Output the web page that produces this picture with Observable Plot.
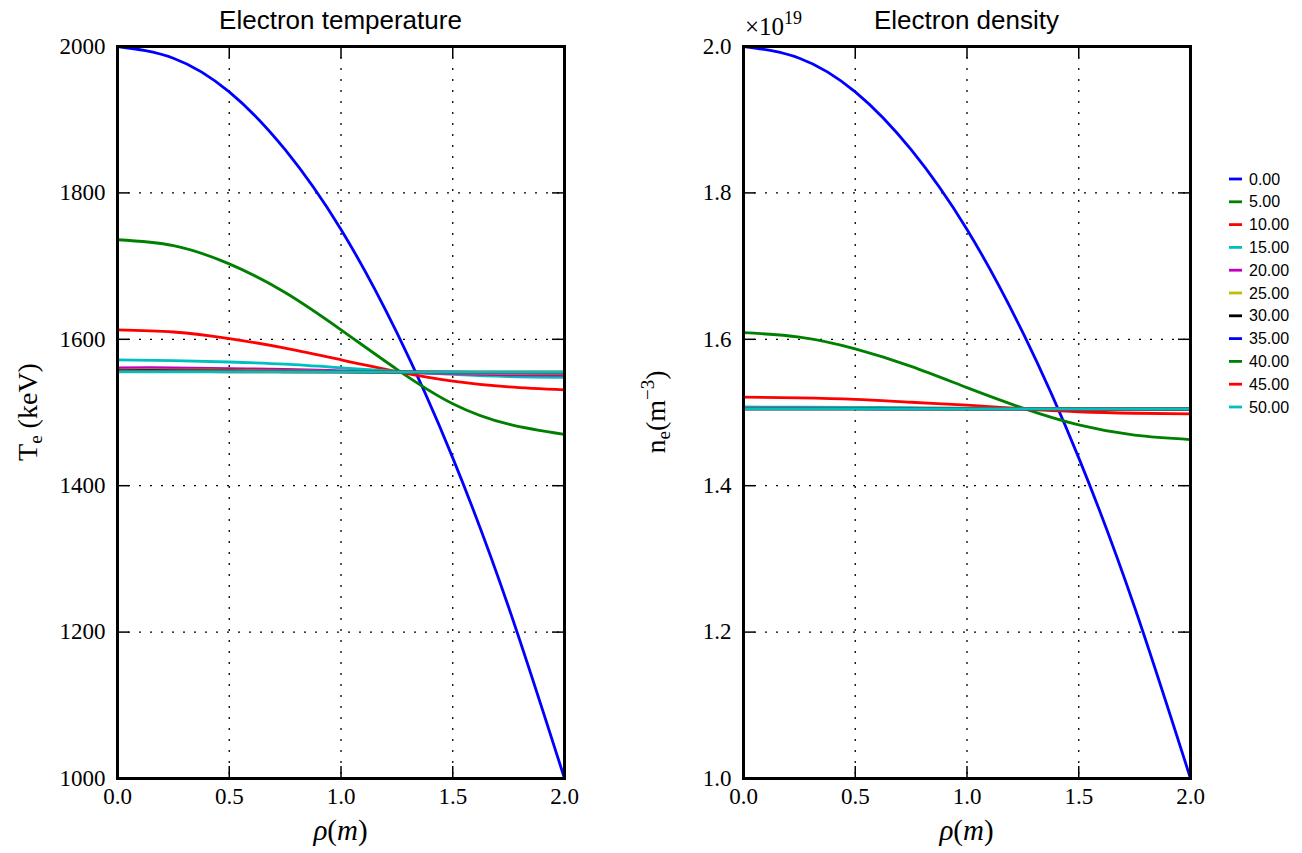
<!DOCTYPE html>
<html>
<head>
<meta charset="utf-8">
<script src="https://cdn.jsdelivr.net/npm/d3@7"></script>
<script src="https://cdn.jsdelivr.net/npm/@observablehq/plot@0.6"></script>
<style>
  body { margin: 0; background: #fff; }
  #wrap { position: relative; width: 1302px; height: 853px; overflow: hidden; }
  #wrap svg { position: absolute; top: 0; overflow: visible; }
  #wrap svg text.ticklab {
    font-family: 'Liberation Serif', 'Times New Roman', serif !important;
    font-size: 23px !important;
    fill: #000 !important;
  }
</style>
</head>
<body>
<div id="wrap"></div>
<script>
// ---- data ----
const rho = [0, 0.25, 0.5, 0.75, 1.0, 1.25, 1.5, 1.75, 2.0];
const seriesLabels = ["0.00","5.00","10.00","15.00","20.00","25.00","30.00","35.00","40.00","45.00","50.00"];
const seriesColors = ["#0000ff","#008000","#ff0000","#00bfbf","#bf00bf","#bfbf00","#000000","#0000ff","#008000","#ff0000","#00bfbf"];
const xTicks = [0, 0.5, 1.0, 1.5, 2.0];
const teTicks = [1000, 1200, 1400, 1600, 1800, 2000];
const neTicks = [1.0, 1.2, 1.4, 1.6, 1.8, 2.0];

// electron temperature (keV)
const te00 = [2000, 1984, 1938, 1859, 1750, 1609, 1438, 1234, 1000];
const te05 = [1736, 1728, 1703, 1664, 1613, 1559, 1512, 1484, 1470];
const te10 = [1613, 1610, 1601, 1588, 1572, 1556, 1543, 1535, 1531];
const te15 = [1572, 1571, 1569, 1566, 1561, 1556, 1552, 1549, 1548];
const te20 = [1561, 1561, 1560, 1559, 1557, 1555, 1553, 1551.5, 1551];
const te25 = [1558, 1558, 1557.5, 1557, 1556, 1555, 1554.3, 1553.8, 1553.6];
const te30 = [1557, 1557, 1556.8, 1556.4, 1555.8, 1555.2, 1554.7, 1554.4, 1554.3];
const te35 = [1556.4, 1556.4, 1556.2, 1556, 1555.6, 1555.2, 1555, 1554.8, 1554.7];
const te40 = [1556, 1556, 1555.9, 1555.7, 1555.5, 1555.3, 1555.1, 1555, 1555];
const te45 = [1555.8, 1555.8, 1555.7, 1555.6, 1555.4, 1555.3, 1555.2, 1555.1, 1555.1];
const te50 = [1555.6, 1555.6, 1555.5, 1555.5, 1555.4, 1555.3, 1555.2, 1555.2, 1555.2];

// electron density (x 1e19 m^-3)
const ne00 = [2.0, 1.984, 1.938, 1.859, 1.75, 1.609, 1.438, 1.234, 1.0];
const ne05 = [1.609, 1.603, 1.587, 1.563, 1.534, 1.506, 1.483, 1.469, 1.463];
const ne10 = [1.521, 1.520, 1.518, 1.514, 1.510, 1.505, 1.501, 1.499, 1.498];
const ne15 = [1.5075, 1.5074, 1.507, 1.5065, 1.506, 1.5053, 1.5047, 1.5043, 1.5042];
const ne20 = [1.5058, 1.5058, 1.5057, 1.5055, 1.5053, 1.505, 1.5048, 1.5046, 1.5046];
const ne25 = [1.5053, 1.5053, 1.5053, 1.5052, 1.5051, 1.505, 1.5049, 1.5048, 1.5048];
const ne30 = [1.5052, 1.5052, 1.5052, 1.5051, 1.5051, 1.505, 1.5049, 1.5049, 1.5049];
const ne35 = [1.5051, 1.5051, 1.5051, 1.5051, 1.505, 1.505, 1.505, 1.5049, 1.5049];
const ne40 = [1.5051, 1.5051, 1.5051, 1.505, 1.505, 1.505, 1.505, 1.505, 1.505];
const ne45 = [1.505, 1.505, 1.505, 1.505, 1.505, 1.505, 1.505, 1.505, 1.505];
const ne50 = [1.505, 1.505, 1.505, 1.505, 1.505, 1.505, 1.505, 1.505, 1.505];

const teSeries = [te00, te05, te10, te15, te20, te25, te30, te35, te40, te45, te50];
const neSeries = [ne00, ne05, ne10, ne15, ne20, ne25, ne30, ne35, ne40, ne45, ne50];

function toTable(series) {
  const rows = [];
  series.forEach((vals, i) => vals.forEach((v, j) => rows.push({label: seriesLabels[i], rho: rho[j], value: v})));
  return rows;
}

const H = 853, MT = 46, MB = 75;
const serif = "'Liberation Serif', 'Times New Roman', serif";
const sans = "'Liberation Sans', Arial, sans-serif";

function panel({data, yDomain, yTicks, yFormat, width, marginLeft, marginRight}) {
  const innerH = H - MT - MB;
  const innerW = width - marginLeft - marginRight;
  const tl = 12;
  const svg = Plot.plot({
    width, height: H, marginTop: MT, marginBottom: MB, marginLeft, marginRight,
    style: {fontFamily: serif, fontSize: "23px", color: "#000", background: "transparent", overflow: "visible"},
    x: {domain: [0, 2], label: null},
    y: {domain: yDomain, label: null},
    color: {domain: seriesLabels, range: seriesColors},
    marks: [
      Plot.gridX(xTicks, {stroke: "#000", strokeOpacity: 1, strokeWidth: 1.3, strokeDasharray: "2,9"}),
      Plot.gridY(yTicks, {stroke: "#000", strokeOpacity: 1, strokeWidth: 1.3, strokeDasharray: "2,9"}),
      Plot.line(data, {x: "rho", y: "value", z: "label", stroke: "label", strokeWidth: 2.8, curve: "natural"}),
      Plot.tickX(xTicks, {x: d => d, insetTop: innerH - tl, stroke: "#000", strokeWidth: 1.5}),
      Plot.tickX(xTicks, {x: d => d, insetBottom: innerH - tl, stroke: "#000", strokeWidth: 1.5}),
      Plot.tickY(yTicks, {y: d => d, insetRight: innerW - tl, stroke: "#000", strokeWidth: 1.5}),
      Plot.tickY(yTicks, {y: d => d, insetLeft: innerW - tl, stroke: "#000", strokeWidth: 1.5}),
      Plot.axisX(xTicks, {tickSize: 0, tickPadding: 9, tickFormat: d3.format(".1f"), label: null, fontSize: 23, fontFamily: serif, fill: "#000"}),
      Plot.axisY(yTicks, {tickSize: 0, tickPadding: 12, tickFormat: yFormat, label: null, fontSize: 23, fontFamily: serif, fill: "#000"}),
      Plot.frame({stroke: "#000", strokeWidth: 3})
    ]
  });
  // all text produced by Plot here is tick labels: force the serif face / size
  d3.select(svg).selectAll("text").classed("ticklab", true)
    .style("font-family", serif).style("font-size", "23px").style("fill", "#000");
  return svg;
}

const wrap = document.getElementById("wrap");

// left panel
const leftW = 640;
const left = panel({data: toTable(teSeries), yDomain: [1000, 2000], yTicks: teTicks, yFormat: d3.format("d"), width: leftW, marginLeft: 117, marginRight: 76});
left.style.left = "0px";
wrap.appendChild(left);

// right panel
const rightX = 640, rightW = 662;
const right = panel({data: toTable(neSeries), yDomain: [1.0, 2.0], yTicks: neTicks, yFormat: d3.format(".1f"), width: rightW, marginLeft: 103, marginRight: 112});
right.style.left = rightX + "px";
wrap.appendChild(right);

function addTexts(svg, {cx, title, yLabelX, yLabel}) {
  const s = d3.select(svg);
  s.append("text").attr("x", cx).attr("y", 29).attr("text-anchor", "middle")
    .attr("font-family", sans).attr("font-size", 26).attr("fill", "#000").text(title);
  const xl = s.append("text").attr("x", cx).attr("y", 840).attr("text-anchor", "middle")
    .attr("font-family", serif).attr("font-size", 29).attr("fill", "#000");
  xl.append("tspan").attr("font-style", "italic").text("ρ");
  xl.append("tspan").text("(");
  xl.append("tspan").attr("font-style", "italic").text("m");
  xl.append("tspan").text(")");
  const yl = s.append("text").attr("transform", `translate(${yLabelX},412) rotate(-90)`)
    .attr("text-anchor", "middle").attr("font-family", serif).attr("font-size", 28).attr("fill", "#000");
  yLabel(yl);
}

addTexts(left, {cx: 340.5, title: "Electron temperature", yLabelX: 37, yLabel: t => {
  t.append("tspan").text("T");
  t.append("tspan").attr("font-size", 19).attr("dy", 5).text("e");
  t.append("tspan").attr("dy", -5).text(" (keV)");
}});

addTexts(right, {cx: 326.5, title: "Electron density", yLabelX: 25, yLabel: t => {
  t.append("tspan").text("n");
  t.append("tspan").attr("font-size", 19).attr("dy", 5).text("e");
  t.append("tspan").attr("dy", -5).text("(m");
  t.append("tspan").attr("font-size", 19).attr("dy", -11).text("−3");
  t.append("tspan").attr("dy", 11).text(")");
}});

// multiplier label
const rs = d3.select(right);
const mult = rs.append("text").attr("x", 105).attr("y", 35).attr("text-anchor", "start")
  .attr("font-family", serif).attr("font-size", 25).attr("fill", "#000");
mult.append("tspan").text("×10");
mult.append("tspan").attr("font-size", 18).attr("dy", -11).text("19");

// legend
const lg = rs.append("g").attr("transform", `translate(${1229 - rightX},179)`);
seriesLabels.forEach((lab, i) => {
  const g = lg.append("g").attr("transform", `translate(0,${i * 22.8})`);
  g.append("line").attr("x1", 0).attr("x2", 13).attr("y1", 0).attr("y2", 0)
    .attr("stroke", seriesColors[i]).attr("stroke-width", 2.8);
  g.append("text").attr("x", 20).attr("y", 0).attr("dy", "0.35em").attr("text-anchor", "start")
    .attr("font-family", sans).attr("font-size", 16).attr("fill", "#000").text(lab);
});
</script>
</body>
</html>
